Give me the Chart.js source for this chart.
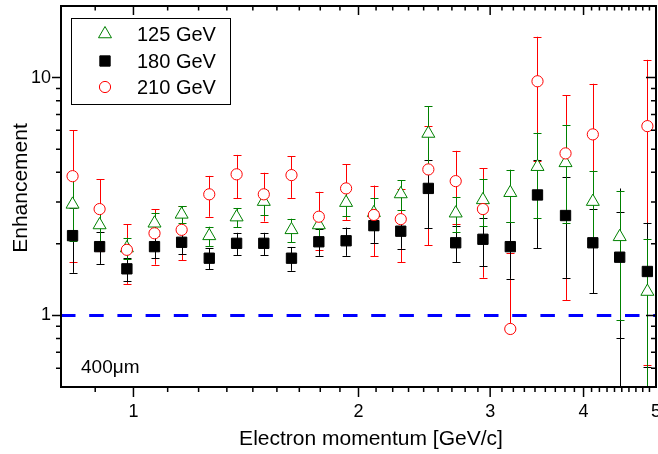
<!DOCTYPE html>
<html>
<head>
<meta charset="UTF-8">
<title>Enhancement vs electron momentum</title>
<script src="https://cdn.jsdelivr.net/npm/chart.js@4.4.1/dist/chart.umd.min.js"></script>
<style>
    body { margin: 0; background: #fff; }
    #wrap { width: 658px; height: 454px; }
</style>
</head>
<body>
<div id="wrap"><canvas id="enh" width="658" height="454"></canvas></div>
<script>
    // electron momentum bins [GeV/c]
    const momentum = [0.829, 0.901, 0.980, 1.067, 1.160, 1.263, 1.374, 1.494, 1.627, 1.770, 1.925,
                      2.097, 2.278, 2.480, 2.698, 2.934, 3.192, 3.471, 3.784, 4.116, 4.471, 4.869];

    // 125 GeV
    const enh125 = [2.93, 2.40, 1.92, 2.44, 2.66, 2.16, 2.59, 3.01, 2.29, 2.40, 2.98,
                    2.70, 3.24, 5.82, 2.69, 3.06, 3.28, 4.22, 4.38, 3.01, 2.14, 1.26];
    const err125 = [0.88, 0.36, 0.19, 0.26, 0.225, 0.20, 0.24, 0.365, 0.26, 0.29, 0.36,
                    0.415, 0.47, 1.76, 0.45, 0.69, 0.82, 1.65, 1.93, 1.05, 1.18, 0.84];

    // 180 GeV
    const enh180 = [2.165, 1.946, 1.57, 1.946, 2.03, 1.74, 2.01, 2.01, 1.74, 2.04, 2.06,
                    2.385, 2.26, 3.42, 2.02, 2.09, 1.946, 3.21, 2.63, 2.02, 1.757, 1.53];
    const err180 = [0.655, 0.30, 0.175, 0.21, 0.215, 0.175, 0.215, 0.215, 0.20, 0.26, 0.28,
                    0.365, 0.35, 1.10, 0.35, 0.48, 0.52, 1.29, 1.19, 0.78, 0.955, 0.925];
    // extra uncapped error on the 180 GeV set
    const errOuter180 = [null, null, null, null, null, null, null, null, null, null, null,
                         null, null, null, null, null, null, null, null, null, 1.66, null];

    // 210 GeV
    const enh210 = [3.85, 2.80, 1.887, 2.215, 2.29, 3.23, 3.92, 3.23, 3.89, 2.60, 3.42,
                    2.645, 2.54, 4.11, 3.67, 2.80, 0.877, 9.65, 4.80, 5.77, null, 6.25];
    const err210 = [2.17, 0.93, 0.53, 0.58, 0.585, 0.63, 0.81, 0.75, 0.77, 0.71, 0.90,
                    0.87, 0.87, 2.14, 1.25, 1.36, 0.95, 5.20, 3.64, 3.65, null, 5.63];

    const xRange = [0.8, 5];
    const yRange = [0.5, 20];
    const xMajor = [1, 2, 3, 4, 5];
    const yMajor = [1, 10];
    const yMinor = [0.6, 0.7, 0.8, 0.9, 2, 3, 4, 5, 6, 7, 8, 9];
    const xMinor = [8 / 9];
    [1, 2, 3].forEach(d => { for (let k = 1; k < 9; k++) xMinor.push(d + k / 9); });
    for (let k = 1; k < 10; k++) xMinor.push(4 + k / 10);

    const FONT = 'Arial, "Liberation Sans", sans-serif';

    function points(vals, errs, outer) {
        return momentum.map((x, i) => ({ x: x, y: vals[i], e: errs[i], eo: outer ? outer[i] : null }));
    }

    // keep the plot box fixed: no label overhang padding
    function noPad(s) {
        s.paddingLeft = 0; s.paddingRight = 0; s.paddingTop = 0; s.paddingBottom = 0;
    }

    // vertical error bars, drawn under the markers
    const errorBars = {
        id: 'errorBars',
        beforeDatasetsDraw(chart) {
            const { ctx, chartArea: a } = chart;
            const xs = chart.scales.x, ys = chart.scales.y;
            ctx.save();
            ctx.beginPath();
            ctx.rect(a.left, a.top, a.right - a.left, a.bottom - a.top);
            ctx.clip();
            ctx.lineWidth = 1;
            [2, 1, 0].forEach(di => {
                const ds = chart.data.datasets[di];
                ctx.strokeStyle = ds.borderColor;
                ds.data.forEach(p => {
                    if (p.y === null || p.e === null) return;
                    const px = Math.round(xs.getPixelForValue(p.x)) + 0.5;
                    const hi = ys.getPixelForValue(p.y + p.e);
                    const lo = p.y - p.e > 0 ? ys.getPixelForValue(p.y - p.e) : null;
                    const py = ys.getPixelForValue(p.y);
                    ctx.beginPath();
                    ctx.moveTo(px, hi);
                    ctx.lineTo(px, lo === null ? py : lo);
                    ctx.moveTo(px - 4, Math.round(hi) + 0.5);
                    ctx.lineTo(px + 4, Math.round(hi) + 0.5);
                    if (lo !== null) {
                        ctx.moveTo(px - 4, Math.round(lo) + 0.5);
                        ctx.lineTo(px + 4, Math.round(lo) + 0.5);
                    }
                    ctx.stroke();
                    if (p.eo) {
                        const top = ys.getPixelForValue(p.y + p.eo);
                        const bot = p.y - p.eo > 0 ? ys.getPixelForValue(p.y - p.eo) : a.bottom;
                        ctx.beginPath();
                        ctx.moveTo(px, top);
                        ctx.lineTo(px, bot);
                        ctx.stroke();
                    }
                });
            });
            ctx.restore();
        }
    };

    // frame, mirrored tick marks, titles, legend box and label
    const decorations = {
        id: 'decorations',
        afterDraw(chart) {
            const { ctx, chartArea: a } = chart;
            const xs = chart.scales.x, ys = chart.scales.y;
            ctx.save();
            ctx.strokeStyle = '#000';
            ctx.lineWidth = 1.5;
            ctx.beginPath();
            const tickX = (v, len, lenIn) => {
                const px = xs.getPixelForValue(v);
                if (px < a.left + 1 || px > a.right - 1) return;
                ctx.moveTo(px, a.bottom); ctx.lineTo(px, a.bottom + len);
                ctx.moveTo(px, a.top); ctx.lineTo(px, a.top + lenIn);
            };
            const tickY = (v, len, lenIn) => {
                const py = ys.getPixelForValue(v);
                if (py < a.top + 1 || py > a.bottom - 1) return;
                ctx.moveTo(a.left, py); ctx.lineTo(a.left - len, py);
                ctx.moveTo(a.right, py); ctx.lineTo(a.right - lenIn, py);
            };
            xMajor.forEach(v => tickX(v, 10, 9));
            xMinor.forEach(v => tickX(v, 5, 4.5));
            yMajor.forEach(v => tickY(v, 9, 10));
            yMinor.forEach(v => tickY(v, 5, 5));
            ctx.stroke();

            ctx.lineWidth = 2;
            ctx.strokeRect(a.left, a.top, a.right - a.left, a.bottom - a.top);

            ctx.fillStyle = '#000';
            ctx.font = '21px ' + FONT;
            ctx.textAlign = 'center';
            ctx.textBaseline = 'alphabetic';
            ctx.fillText('Electron momentum [GeV/c]', 371, 445);
            ctx.save();
            ctx.translate(27, 188);
            ctx.rotate(-Math.PI / 2);
            ctx.fillText('Enhancement', 0, 0);
            ctx.restore();

            ctx.textAlign = 'left';
            ctx.font = '19px ' + FONT;
            ctx.fillText('400\u03bcm', 81, 373);

            // legend
            ctx.fillStyle = '#fff';
            ctx.fillRect(71.5, 18.5, 159, 86);
            ctx.lineWidth = 1;
            ctx.strokeRect(71.5, 18.5, 159, 86);
            const rows = [34, 61, 87];
            [0, 1, 2].forEach((di, r) => {
                const ds = chart.data.datasets[di];
                ctx.fillStyle = ds.backgroundColor;
                ctx.strokeStyle = ds.borderColor;
                ctx.lineWidth = 1;
                Chart.helpers.drawPoint(ctx, {
                    pointStyle: ds.pointStyle, radius: ds.pointRadius, borderWidth: 1, rotation: 0
                }, 105, rows[r]);
                ctx.fillStyle = '#000';
                ctx.font = '20px ' + FONT;
                ctx.textBaseline = 'middle';
                ctx.fillText(ds.label, 137, rows[r] + 1);
            });
            ctx.restore();
        }
    };

    new Chart(document.getElementById('enh'), {
        type: 'scatter',
        data: {
            datasets: [
                {
                    label: '125 GeV', data: points(enh125, err125),
                    pointStyle: 'triangle', pointRadius: 7.5, borderColor: '#008000',
                    backgroundColor: '#ffffff', borderWidth: 1, order: 2
                },
                {
                    label: '180 GeV', data: points(enh180, err180, errOuter180),
                    pointStyle: 'rect', pointRadius: 7.3, borderColor: '#000000',
                    backgroundColor: '#000000', borderWidth: 1, order: 1
                },
                {
                    label: '210 GeV', data: points(enh210, err210),
                    pointStyle: 'circle', pointRadius: 5.6, borderColor: '#ff0000',
                    backgroundColor: '#ffffff', borderWidth: 1, order: 0
                },
                {
                    label: 'unity', type: 'line',
                    data: [{ x: xRange[0], y: 1 }, { x: xRange[1], y: 1 }],
                    borderColor: '#0000ff', borderWidth: 3, borderDash: [14.5, 13.7],
                    pointRadius: 0, fill: false, order: 5
                }
            ]
        },
        options: {
            responsive: false,
            animation: false,
            devicePixelRatio: 1,
            layout: { autoPadding: false, padding: { left: 0, top: 6, right: 2, bottom: 0 } },
            plugins: { legend: { display: false }, tooltip: { enabled: false } },
            scales: {
                x: {
                    type: 'logarithmic', min: xRange[0], max: xRange[1],
                    grid: { display: false, drawTicks: false }, border: { display: false },
                    afterBuildTicks: s => { s.ticks = xMajor.map(v => ({ value: v })); },
                    afterFit: s => { s.height = 67; noPad(s); },
                    ticks: {
                        autoSkip: false, maxRotation: 0, padding: 14, color: '#000',
                        font: { size: 18, family: FONT }, callback: v => String(v)
                    }
                },
                y: {
                    type: 'logarithmic', min: yRange[0], max: yRange[1],
                    grid: { display: false, drawTicks: false }, border: { display: false },
                    afterBuildTicks: s => { s.ticks = yMajor.map(v => ({ value: v })); },
                    afterFit: s => { s.width = 61; noPad(s); },
                    ticks: {
                        autoSkip: false, padding: 10, color: '#000',
                        font: { size: 18, family: FONT }, callback: v => String(v)
                    }
                }
            }
        },
        plugins: [errorBars, decorations]
    });
</script>
</body>
</html>
